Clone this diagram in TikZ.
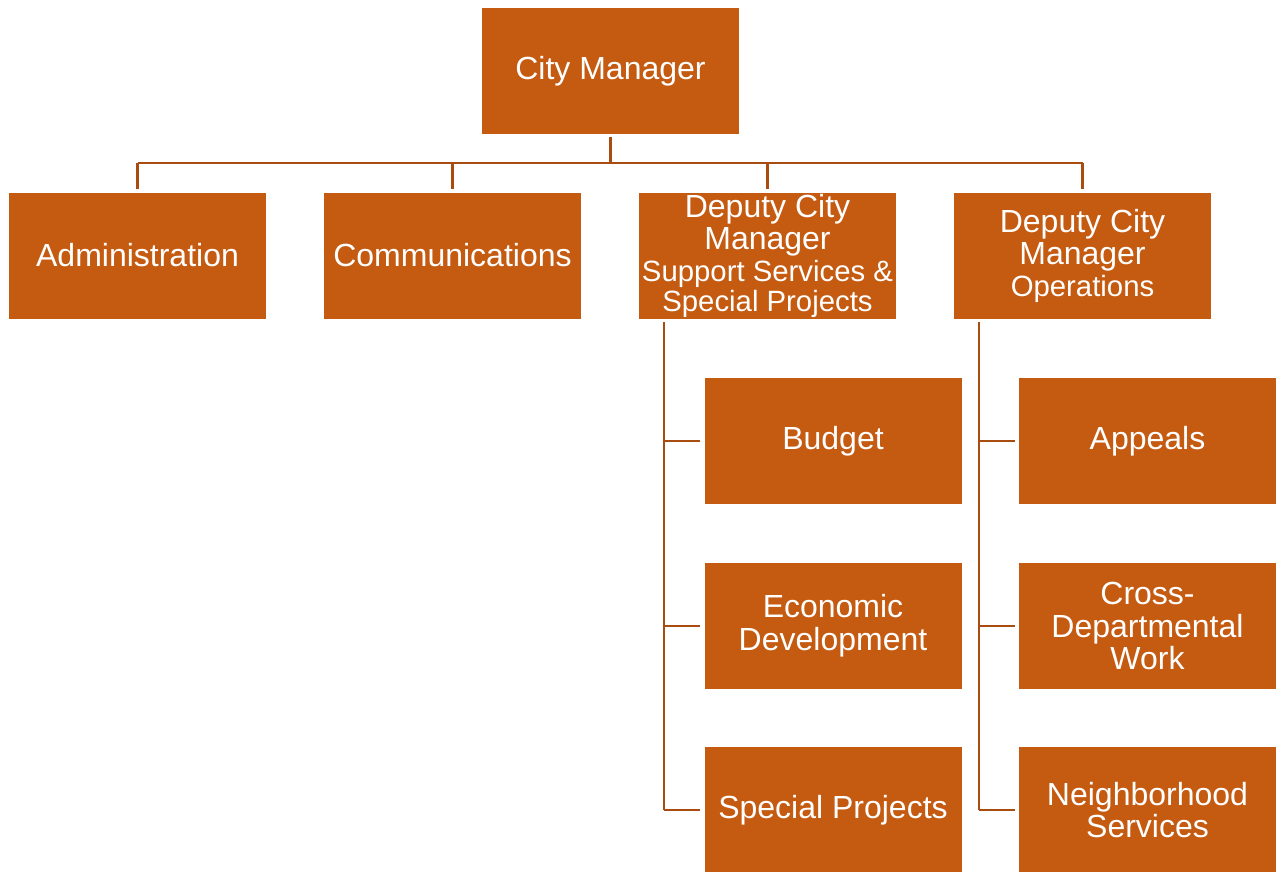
\documentclass[tikz,border=0pt]{standalone}
\usepackage{fontspec}
\setmainfont{Liberation Sans}
\definecolor{boxc}{HTML}{C55A11}
\definecolor{linec}{HTML}{A94C10}
\begin{document}
\begin{tikzpicture}[x=0.75pt,y=-0.75pt]
\useasboundingbox (0,0) rectangle (1276,871);
\tikzset{
  ob/.style={fill=boxc, draw=none, text=white, align=center,
    font=\fontsize{24}{24.5}\selectfont, inner sep=0pt,
    minimum width=192.75pt, minimum height=94.5pt},
  cn/.style={draw=linec, line width=2.2pt},
}
\newcommand{\smalltxt}{\fontsize{22}{22.5}\selectfont}
\node[ob] (cm) at (610.5,71) {City Manager};
\node[ob] (adm) at (137.5,255.5) {Administration};
\node[ob] (com) at (452.5,255.5) {Communications};
\node[ob] (dss) at (767.5,255.5) {Deputy City\\Manager\\[-1pt]{\smalltxt Support Services \&}\\[-2pt]{\smalltxt Special Projects}};
\node[ob] (dops) at (1082.5,255.5) {Deputy City\\Manager\\[-1pt]{\smalltxt Operations}};
\node[ob] (bud) at (833,441) {Budget};
\node[ob] (eco) at (833,626) {Economic\\Development};
\node[ob] (spp) at (833,810) {Special Projects};
\node[ob] (app) at (1147.5,441) {Appeals};
\node[ob] (cdw) at (1147.5,626) {Cross-\\Departmental\\Work};
\node[ob] (nbs) at (1147.5,810) {Neighborhood\\Services};
\coordinate (bus) at (610,163);
\coordinate (sv) at (664,0);
\coordinate (ov) at (979,0);
\draw[cn, shorten <=2.25pt] (cm.south) -- (cm.south |- bus);
\draw[cn] (adm.north |- bus) -- (dops.north |- bus);
\foreach \n in {adm,com,dss,dops}
  \draw[cn, shorten >=2.25pt] (\n.north |- bus) -- (\n.north);
\draw[cn, shorten <=2.25pt] (sv |- dss.south) -- (sv |- spp);
\foreach \n in {bud,eco,spp}
  \draw[cn, shorten >=3pt] (sv |- \n) -- (\n.west);
\draw[cn, shorten <=2.25pt] (ov |- dops.south) -- (ov |- nbs);
\foreach \n in {app,cdw,nbs}
  \draw[cn, shorten >=3pt] (ov |- \n) -- (\n.west);
\end{tikzpicture}
\end{document}
